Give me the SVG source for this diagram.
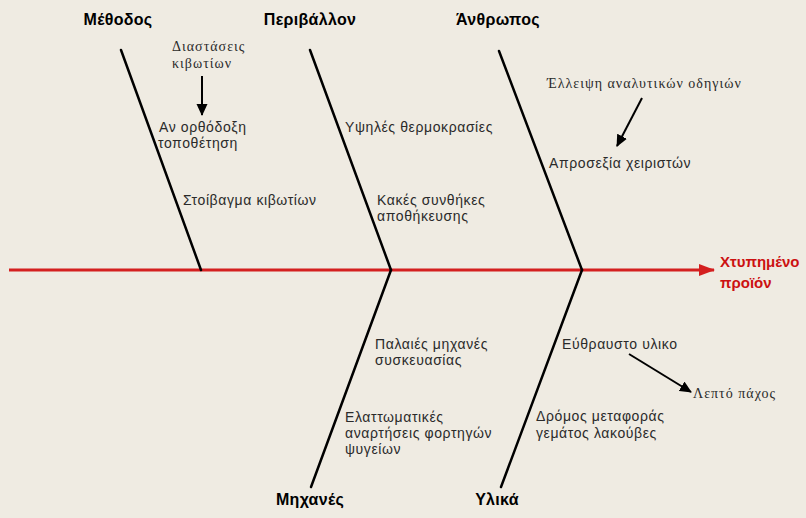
<svg xmlns="http://www.w3.org/2000/svg" width="806" height="518" viewBox="0 0 806 518">
<defs>
<style>
.bg{fill:#efebe2}
.spine{stroke:#000;stroke-width:2.5;fill:none;stroke-linecap:round}
.main{stroke:#d41f1f;stroke-width:3;fill:none}
.arr{stroke:#000;stroke-width:2;fill:none}
.title{font-family:"Liberation Sans",Arial,sans-serif;font-size:16px;font-weight:bold;fill:#000;text-anchor:middle;letter-spacing:0.3px}
.lbl{font-family:"Liberation Sans",Arial,sans-serif;font-size:14px;fill:#2a2a2a;letter-spacing:0.6px}
.ser{font-family:"Liberation Serif","Times New Roman",serif;font-size:14px;fill:#2a2a2a;letter-spacing:1px}
.effect{font-family:"Liberation Sans",Arial,sans-serif;font-size:15px;font-weight:bold;fill:#cc1111}
</style>
<marker id="ah" markerWidth="12" markerHeight="12" refX="11" refY="6" orient="auto" markerUnits="userSpaceOnUse">
<path d="M0,0.5 L12,6 L0,11.5 Z" fill="#000"/>
</marker>
<marker id="ahr" markerWidth="16" markerHeight="12" refX="15" refY="6" orient="auto" markerUnits="userSpaceOnUse">
<path d="M0,0 L16,6 L0,12 Z" fill="#d41f1f"/>
</marker>
</defs>
<rect class="bg" x="0" y="0" width="806" height="518"/>
<g id="connectors">
<line class="main" x1="9" y1="270" x2="714" y2="270" marker-end="url(#ahr)"/>
<line class="spine" x1="121" y1="50" x2="201" y2="270"/>
<line class="spine" x1="310" y1="50" x2="391" y2="270"/>
<line class="spine" x1="499" y1="51" x2="582" y2="270"/>
<line class="spine" x1="391" y1="270" x2="311" y2="487"/>
<line class="spine" x1="582" y1="270" x2="501" y2="487"/>
<line class="arr" x1="202" y1="76" x2="202" y2="115" marker-end="url(#ah)"/>
<line class="arr" x1="642" y1="98" x2="617" y2="146" marker-end="url(#ah)"/>
<line class="arr" x1="629" y1="354" x2="691" y2="392" marker-end="url(#ah)"/>
</g>
<g id="methodos"><text class="title" x="118" y="25">Μέθοδος</text></g>
<g id="perivallon"><text class="title" x="310" y="25">Περιβάλλον</text></g>
<g id="anthropos"><text class="title" x="498" y="25">Άνθρωπος</text></g>
<g id="michanes"><text class="title" x="310" y="505">Μηχανές</text></g>
<g id="ylika"><text class="title" x="497" y="505">Υλικά</text></g>
<g id="effect"><text class="effect" x="720" y="267">Χτυπημένο</text><text class="effect" x="720" y="288">προϊόν</text></g>
<g id="diastaseis"><text class="ser" x="172" y="51">Διαστάσεις</text><text class="ser" x="172" y="68">κιβωτίων</text></g>
<g id="anorthodoxi"><text class="lbl" x="159" y="132">Αν ορθόδοξη</text><text class="lbl" x="158" y="148">τοποθέτηση</text></g>
<g id="stoivagma"><text class="lbl" x="183" y="205">Στοίβαγμα κιβωτίων</text></g>
<g id="thermokrasies"><text class="lbl" x="345" y="132">Υψηλές θερμοκρασίες</text></g>
<g id="synthikes"><text class="lbl" x="377" y="205">Κακές συνθήκες</text><text class="lbl" x="377" y="221">αποθήκευσης</text></g>
<g id="elleipsi"><text class="ser" x="547" y="88">Έλλειψη αναλυτικών οδηγιών</text></g>
<g id="aprosexia"><text class="lbl" x="549" y="168">Απροσεξία χειριστών</text></g>
<g id="palaies"><text class="lbl" x="375" y="349">Παλαιές μηχανές</text><text class="lbl" x="375" y="365">συσκευασίας</text></g>
<g id="elattomatikes"><text class="lbl" x="345" y="422">Ελαττωματικές</text><text class="lbl" x="345" y="438">αναρτήσεις φορτηγών</text><text class="lbl" x="345" y="454">ψυγείων</text></g>
<g id="evthrafsto"><text class="lbl" x="562" y="349">Εύθραυστο υλικο</text></g>
<g id="lepto"><text class="ser" x="693" y="398">Λεπτό πάχος</text></g>
<g id="dromos"><text class="lbl" x="536" y="421">Δρόμος μεταφοράς</text><text class="lbl" x="536" y="438">γεμάτος λακούβες</text></g>
</svg>
